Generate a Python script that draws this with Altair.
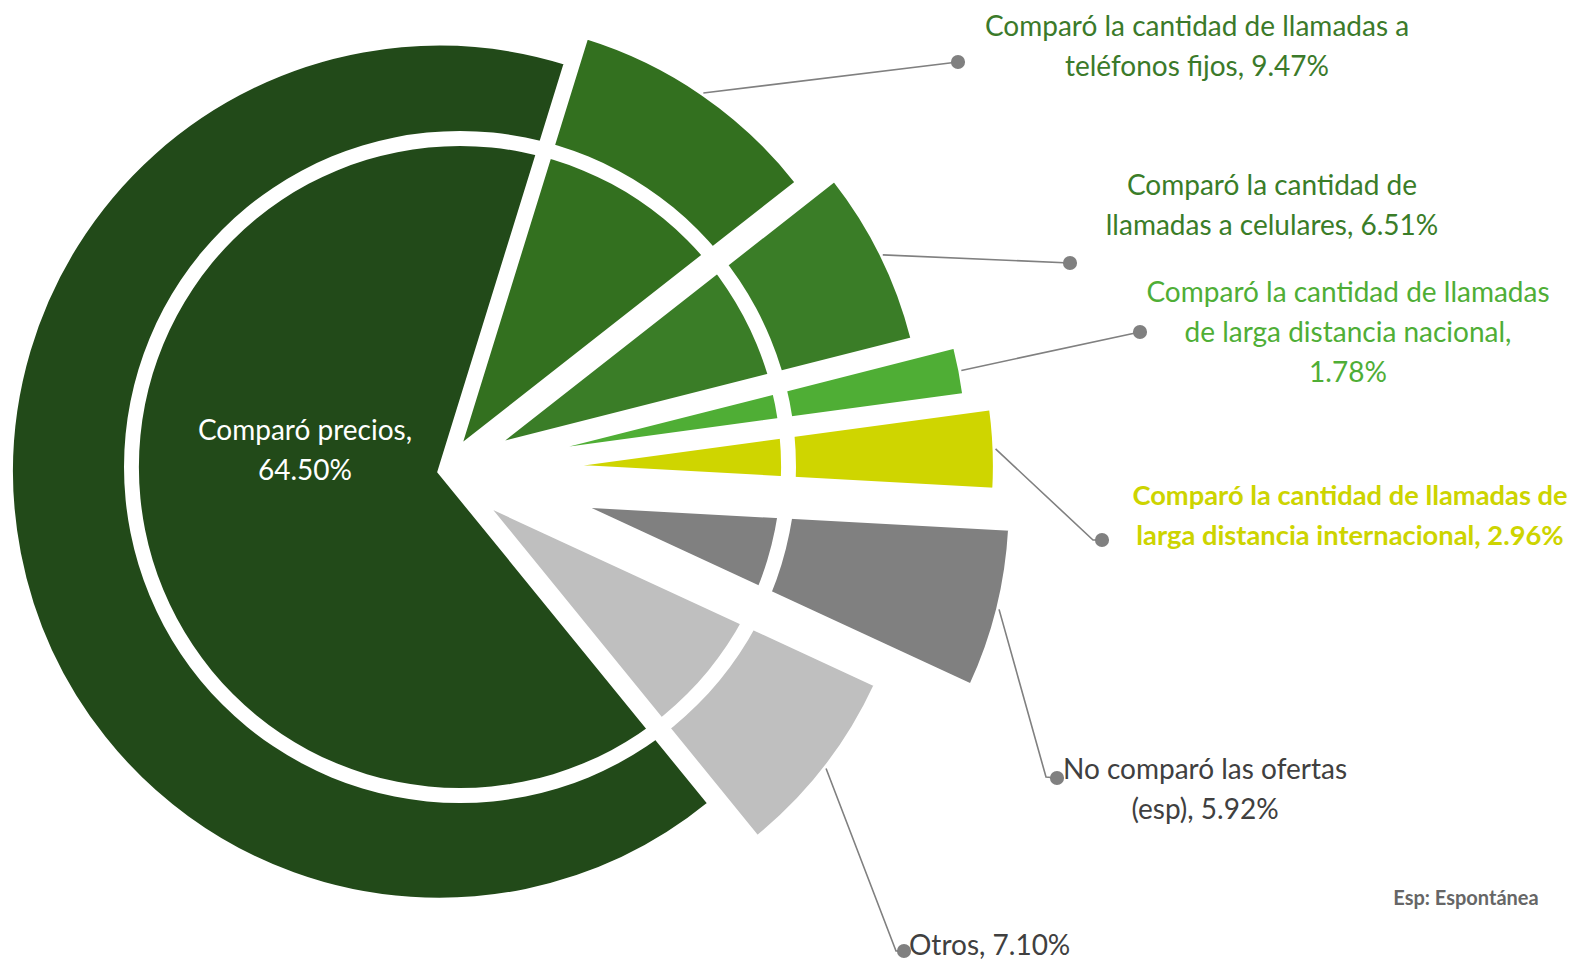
import math
import altair as alt
import pandas as pd

# ---------------- data ----------------
categories = [
    "Comparó la cantidad de llamadas a teléfonos fijos",
    "Comparó la cantidad de llamadas a celulares",
    "Comparó la cantidad de llamadas de larga distancia nacional",
    "Comparó la cantidad de llamadas de larga distancia internacional",
    "No comparó las ofertas (esp)",
    "Otros",
    "Comparó precios",
]
values = [9.47, 6.51, 1.78, 2.96, 5.92, 7.10, 64.50]
labels = [
    "Comparó la cantidad de llamadas a\nteléfonos fijos, 9.47%",
    "Comparó la cantidad de\nllamadas a celulares, 6.51%",
    "Comparó la cantidad de llamadas\nde larga distancia nacional,\n1.78%",
    "Comparó la cantidad de llamadas de\nlarga distancia internacional, 2.96%",
    "No comparó las ofertas\n(esp), 5.92%",
    "Otros, 7.10%",
    "Comparó precios,\n64.50%",
]
note = "Esp: Espontánea"

# ---------------- style / layout ----------------
slice_colors = ["#33701F", "#3A7D27", "#4FAE35", "#CFD500", "#808080", "#BFBFBF", "#224A19"]
text_colors = ["#3B7A2A", "#3A7D28", "#4FAE36", "#CDD400", "#404040", "#404040", "#FFFFFF"]
bold = [False, False, False, True, False, False, False]
align = ["center", "center", "center", "center", "center", "left", "center"]

W, H = 1567, 952
FONT = "Lato"
FONT_SIZE = 28
BOLD_SIZE = 27.3
CX, CY = 435.0, 463.0          # pie centre (px)
R_VIS = 426.0                   # visible outer radius
STROKE_W = 3.5                  # white separation stroke
START_DEG = 17.2                # angle where the first slice starts
explode = [30, 61, 99, 124, 144, 56, 4]
RING_X, RING_Y, RING_R0, RING_R1 = 452, 459, 321, 336
LEADER_GAP = 3
label_xy = [(1189, 28), (1264, 187), (1340, 294), (1342, 497), (1197, 771), (901, 947), (297, 432)]
dot_xy = [(950, 54), (1062, 255), (1132, 324), (1094, 532), (1049, 770), (896, 943), None]
elbow_xy = [None, None, None, (1085, 532), (1038, 769), (888, 943), None]

# ---------------- derived tables ----------------
total = sum(values)
a0 = math.radians(START_DEG)
rows, leader_rows, dot_rows, text_rows = [], [], [], []
cum = 0.0
for i, (cat, v) in enumerate(zip(categories, values)):
    start, end = cum, cum + v
    cum = end
    mid = a0 + 2 * math.pi * (start + v / 2) / total
    sx = CX + explode[i] * math.sin(mid)
    sy = CY - explode[i] * math.cos(mid)
    rows.append(dict(cat=cat, value=v, start=start, end=end, cx=sx, cy=sy, color=slice_colors[i]))
    if dot_xy[i] is not None:
        lx = sx + (R_VIS + LEADER_GAP) * math.sin(mid)
        ly = sy - (R_VIS + LEADER_GAP) * math.cos(mid)
        pts = [(lx, ly)]
        if elbow_xy[i] is not None:
            pts.append(elbow_xy[i])
        pts.append(dot_xy[i])
        for k, (px, py) in enumerate(pts):
            leader_rows.append(dict(cat=cat, seq=k, x=px, y=py))
        dot_rows.append(dict(cat=cat, x=dot_xy[i][0], y=dot_xy[i][1]))
    text_rows.append(dict(cat=cat, text=labels[i], x=label_xy[i][0], y=label_xy[i][1],
                          color=text_colors[i], bold=bold[i], align=align[i]))

df = pd.DataFrame(rows)
df_lead = pd.DataFrame(leader_rows)
df_dot = pd.DataFrame(dot_rows)
df_text = pd.DataFrame(text_rows)

X = lambda f: alt.X(f, scale=None, axis=None)
Y = lambda f: alt.Y(f, scale=None, axis=None)

wedges = alt.Chart(df).mark_arc(
    innerRadius=0, outerRadius=R_VIS + STROKE_W / 2, stroke="white", strokeWidth=STROKE_W
).encode(
    theta=alt.Theta("start:Q", scale=alt.Scale(domain=[0, total], range=[a0, a0 + 2 * math.pi])),
    theta2="end:Q",
    x=X("cx:Q"),
    y=Y("cy:Q"),
    color=alt.Color("color:N", scale=None, legend=None),
)

ring = alt.Chart(pd.DataFrame({"k": [0]})).mark_arc(
    innerRadius=RING_R0, outerRadius=RING_R1, fill="white", stroke=None
).encode(
    x=alt.value(RING_X), y=alt.value(RING_Y),
    theta=alt.value(0), theta2=alt.value(2 * math.pi),
)

leaders = alt.Chart(df_lead).mark_line(color="#808080", strokeWidth=1.6).encode(
    x=X("x:Q"), y=Y("y:Q"), detail="cat:N", order="seq:Q"
)

dots = alt.Chart(df_dot).mark_circle(size=200, color="#808080", opacity=1).encode(
    x=X("x:Q"), y=Y("y:Q")
)

def text_layer(cond, weight, al, size):
    return alt.Chart(df_text).transform_filter(cond).mark_text(
        font=FONT, fontSize=size, fontWeight=weight, align=al,
        baseline="alphabetic", lineBreak="\n", lineHeight=40,
    ).encode(
        x=X("x:Q"), y=Y("y:Q"), text="text:N",
        color=alt.Color("color:N", scale=None, legend=None),
    )

t_center = text_layer("!datum.bold && datum.align == 'center'", "normal", "center", FONT_SIZE)
t_bold = text_layer("datum.bold", "bold", "center", BOLD_SIZE)
t_left = text_layer("datum.align == 'left'", "normal", "left", FONT_SIZE)

note_txt = alt.Chart(pd.DataFrame({"t": [note]})).mark_text(
    font=FONT, fontSize=20, fontWeight="bold", color="#666666", align="center", baseline="alphabetic"
).encode(x=alt.value(1458), y=alt.value(897), text="t:N")

chart = alt.layer(wedges, ring, leaders, dots, t_center, t_bold, t_left, note_txt).properties(
    width=W, height=H, padding=0, autosize=alt.AutoSizeParams(type="none"), background="white"
).configure_view(stroke=None)

chart.save("out.html", embed_options={"renderer": "svg", "actions": False})
